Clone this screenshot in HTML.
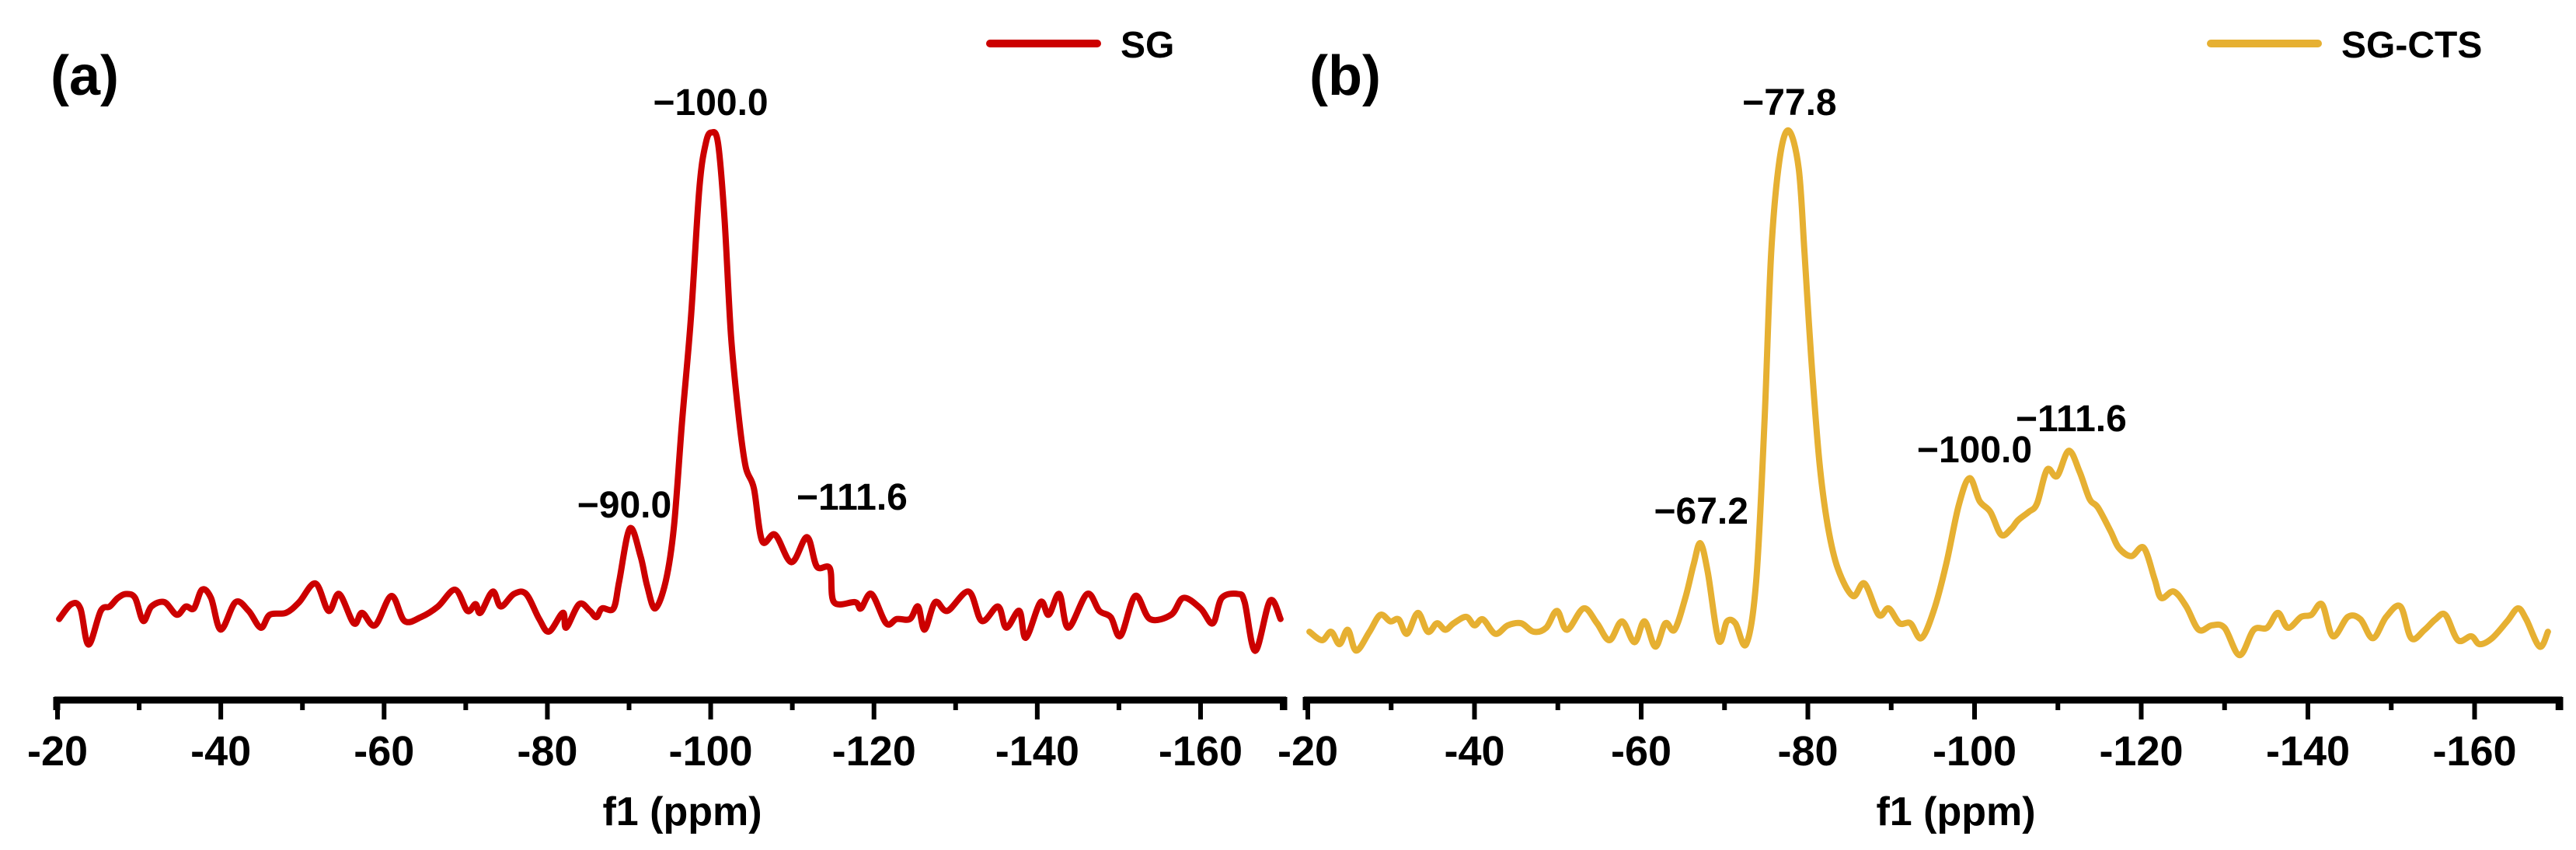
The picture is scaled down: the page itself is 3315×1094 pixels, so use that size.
<!DOCTYPE html>
<html><head><meta charset="utf-8"><style>
html,body{margin:0;padding:0;background:#fff;}
svg{display:block;font-family:"Liberation Sans",Arial,sans-serif;font-weight:bold;}
</style></head><body>
<svg id="fig" width="3315" height="1094" viewBox="0 0 3315 1094" xmlns="http://www.w3.org/2000/svg">
<g id="pa"></g>
<g id="pb"></g>
</svg>
<script>
const ticksPpm = [-20,-40,-60,-80,-100,-120,-140,-160];
const minorPpm = [-30,-50,-70,-90,-110,-130,-150,-170];
const tickLabels = ["-20","-40","-60","-80","-100","-120","-140","-160"];

const sgPpm = [-20.2,-21.7,-22.8,-23.8,-25.3,-26.4,-27.4,-28.4,-29.5,-30.5,-31.5,-33.1,-34.6,-35.7,-36.7,-37.7,-38.8,-40.0,-41.8,-43.4,-44.9,-46.0,-48.0,-49.6,-51.6,-53.2,-54.5,-56.3,-57.3,-58.9,-60.9,-62.5,-64.5,-66.6,-68.7,-70.2,-71.2,-71.8,-73.3,-74.3,-75.9,-77.4,-79.0,-80.2,-81.9,-82.3,-83.9,-85.2,-86.0,-86.7,-88.1,-88.8,-90.1,-91.4,-92.2,-93.2,-94.5,-95.5,-96.5,-97.6,-98.6,-99.4,-100.1,-100.9,-101.7,-102.5,-103.5,-104.3,-105.3,-106.3,-107.9,-109.9,-111.8,-113.0,-114.6,-115.1,-117.7,-118.4,-119.7,-121.5,-122.8,-124.4,-125.4,-126.2,-127.5,-129.0,-131.6,-133.2,-135.2,-136.2,-137.8,-138.6,-140.4,-141.4,-142.7,-143.8,-146.1,-147.6,-149.0,-150.2,-152.0,-153.8,-156.4,-157.9,-160.0,-161.5,-162.6,-164.6,-165.4,-166.7,-168.5,-169.8];
const sgInt = [-2.7,0.4,-0.5,-8.0,-1.0,-0.1,1.7,2.5,1.7,-3.1,-0.1,0.8,-1.8,-0.1,-0.5,3.4,1.7,-4.9,0.8,-1.0,-4.5,-1.8,-1.4,0.8,4.7,-1.0,2.5,-3.6,-1.4,-4.0,2.1,-3.1,-2.3,-0.1,3.4,-1.0,0.4,-1.4,3.0,-0.1,2.5,2.5,-2.7,-5.3,-1.4,-4.5,0.4,-1.0,-2.3,-0.5,-0.5,5.2,16.1,10.4,4.3,-0.5,5.2,16.5,38.4,60.2,86.5,96.1,98.3,96.1,80.3,55.9,38.4,28.8,24.4,13.5,14.8,9.1,14.3,8.2,7.8,0.8,0.8,-0.5,2.5,-3.6,-2.7,-2.7,-0.1,-4.9,0.8,-1.0,3.0,-3.1,-0.1,-4.5,-1.0,-6.6,0.8,-1.8,2.5,-4.5,2.5,-1.0,-2.3,-6.2,2.1,-2.7,-1.8,1.7,-0.5,-3.6,1.7,2.5,0.8,-9.3,1.1,-2.7];

const ctsPpm = [-20.2,-21.7,-22.8,-23.8,-24.8,-25.8,-27.4,-28.7,-29.9,-30.9,-31.9,-33.2,-34.4,-35.5,-36.5,-37.5,-39.0,-40.0,-41.0,-42.5,-44.0,-45.6,-47.1,-48.6,-49.9,-51.1,-53.1,-54.7,-56.2,-57.7,-59.2,-60.4,-61.7,-62.9,-64.0,-65.3,-66.3,-67.1,-68.0,-69.3,-70.3,-71.3,-72.6,-73.8,-74.8,-75.6,-76.6,-77.7,-78.9,-79.6,-80.4,-81.4,-82.4,-83.6,-85.4,-86.8,-88.5,-89.7,-91.0,-92.3,-93.6,-95.1,-96.6,-98.1,-99.4,-100.6,-101.9,-103.2,-104.4,-105.2,-106.5,-107.5,-108.7,-109.9,-111.3,-112.6,-113.8,-114.8,-116.3,-117.3,-118.8,-120.3,-121.6,-122.4,-123.9,-125.4,-126.9,-128.5,-130.0,-131.8,-133.5,-135.1,-136.4,-137.6,-139.2,-140.4,-141.7,-143.0,-144.8,-146.3,-147.8,-149.4,-151.1,-152.4,-154.0,-155.3,-156.5,-158.0,-159.6,-160.6,-162.1,-163.9,-165.2,-166.2,-167.8,-168.8];
const ctsInt = [-0.8,-2.5,-0.8,-3.3,-0.4,-4.6,-0.8,2.6,1.3,1.7,-1.2,3.0,-0.8,0.9,-0.4,0.9,2.2,0.5,1.7,-1.2,0.5,0.9,-0.8,0.0,3.4,-0.4,3.9,0.9,-2.5,1.3,-2.9,1.3,-3.8,0.9,-0.4,6.0,12.8,17.0,11.1,-2.5,1.3,0.9,-3.3,9.4,41.5,75.4,94.1,100.0,92.4,75.4,54.3,33.1,20.4,11.9,6.4,8.9,2.6,3.9,0.9,0.9,-2.1,3.4,12.8,24.6,30.1,25.5,23.3,18.7,19.9,21.6,23.3,25.0,31.8,30.5,35.6,31.4,25.9,24.2,19.5,16.1,14.4,16.1,9.8,6.0,7.3,4.3,-0.4,0.5,0.0,-5.5,-0.4,0.0,3.0,0.0,2.2,2.6,4.7,-1.7,2.2,1.7,-2.1,2.2,4.3,-2.1,-0.4,1.7,2.6,-2.5,-1.7,-3.3,-2.1,1.3,3.9,1.7,-3.8,-0.8];

const sgLabels = ["−90.0","−100.0","−111.6"];
const sgLabelPpm = [-90.0,-100.0,-111.6];
const ctsLabels = ["−67.2","−77.8","−100.0","−111.6"];
const ctsLabelPpm = [-67.2,-77.8,-100.0,-111.6];

const NS = "http://www.w3.org/2000/svg";
function mk(parent, tag, attrs){
  const e = document.createElementNS(NS, tag);
  for (const k in attrs) e.setAttribute(k, attrs[k]);
  parent.appendChild(e);
  return e;
}
function smoothPath(pts){
  let d = "M" + pts[0][0].toFixed(1) + "," + pts[0][1].toFixed(1);
  for (let i = 0; i < pts.length - 1; i++){
    const p0 = pts[Math.max(0,i-1)], p1 = pts[i], p2 = pts[i+1], p3 = pts[Math.min(pts.length-1,i+2)];
    const c1x = p1[0] + (p2[0]-p0[0])/6, c1y = p1[1] + (p2[1]-p0[1])/6;
    const c2x = p2[0] - (p3[0]-p1[0])/6, c2y = p2[1] - (p3[1]-p1[1])/6;
    d += ` C${c1x.toFixed(1)},${c1y.toFixed(1)} ${c2x.toFixed(1)},${c2y.toFixed(1)} ${p2[0].toFixed(1)},${p2[1].toFixed(1)}`;
  }
  return d;
}

function drawPanel(g, cfg){
  const xs = v => cfg.x0 + (-20 - v) * cfg.kx;
  const ys = v => cfg.base - v * cfg.ky;
  const ax = mk(g, "path", {d:`M${cfg.axStart},${cfg.axY+4} H${cfg.axEnd} M${cfg.axEnd-3},${cfg.axY} V${cfg.axY+17} M${cfg.axStart+3},${cfg.axY} V${cfg.axY+17}`, stroke:"#000", "stroke-width":9, fill:"none"});
  
  
  ticksPpm.forEach((v,i)=>{
    const t = mk(g, "line", {x1:xs(v), x2:xs(v), y1:cfg.axY, y2:cfg.axY+29, stroke:"#000", "stroke-width":6});
    
    
    const l = mk(g, "text", {x:xs(v), y:985, "text-anchor":"middle", "font-size":54});
    l.textContent = tickLabels[i];
    
    
  });
  minorPpm.forEach(v=>{
    if (xs(v) > cfg.axEnd - 4) return;
    const t = mk(g, "line", {x1:xs(v), x2:xs(v), y1:cfg.axY, y2:cfg.axY+17, stroke:"#000", "stroke-width":6});
    
    
  });
  const ttl = mk(g, "text", {x:cfg.titleX, y:1062, "text-anchor":"middle", "font-size":52});
  ttl.textContent = "f1 (ppm)";
  
  
  const pts = cfg.ppm.map((p,i)=>[xs(p), ys(cfg.int[i])]);
  const path = mk(g, "path", {d:smoothPath(pts), stroke:cfg.color, "stroke-width":8, fill:"none", "stroke-linejoin":"round", "stroke-linecap":"round"});
  
  
  cfg.labels.forEach((s,i)=>{
    const p = cfg.labelPpm[i];
    const t = mk(g, "text", {x:xs(p)+cfg.labelDx[i], y:cfg.labelY[i], "text-anchor":"middle", "font-size":48});
    t.textContent = s;
    
    
  });
  const pl = mk(g, "text", {x:cfg.letterX, y:122, "font-size":72});
  pl.textContent = cfg.letter;
  
  
  const lg = mk(g, "g", {});
  
  
  mk(lg, "line", {x1:cfg.legX, x2:cfg.legX+138, y1:56, y2:56, stroke:cfg.color, "stroke-width":10, "stroke-linecap":"round"});
  const lt = mk(lg, "text", {x:cfg.legX+168, y:74, "font-size":48});
  lt.textContent = cfg.legendText;
  
  
}

drawPanel(document.getElementById("pa"), {
  x0:74, kx:10.507, base:780, ky:6.2, axY:897, axStart:70, axEnd:1655, titleX:878,
  ppm:sgPpm, int:sgInt, color:"#cc0000", seriesName:"sg-spectrum-line",
  labels:sgLabels, labelPpm:sgLabelPpm, labelDx:[-6,0,60], labelY:[666,148,656],
  letter:"(a)", letterX:65, legX:1274, legendText:"SG"
});
drawPanel(document.getElementById("pb"), {
  x0:1683, kx:10.725, base:808, ky:6.4, axY:897, axStart:1678, axEnd:3297, titleX:2517,
  ppm:ctsPpm, int:ctsInt, color:"#e6b032", seriesName:"sg-cts-spectrum-line",
  labels:ctsLabels, labelPpm:ctsLabelPpm, labelDx:[0,0,0,0], labelY:[674,148,595,555],
  letter:"(b)", letterX:1685, legX:2845, legendText:"SG-CTS"
});
</script>
</body></html>
